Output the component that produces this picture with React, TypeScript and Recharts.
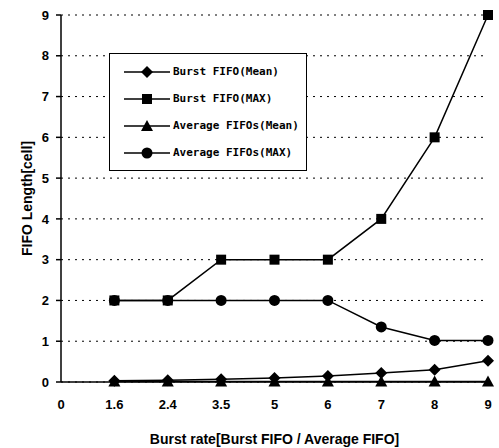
import React from 'react';
import {
  LineChart,
  Line,
  XAxis,
  YAxis,
  CartesianGrid,
  Legend,
} from 'recharts';

// burst rate categories (the "0" slot sits on the y axis and carries no data)
const categories = ['0', '1.6', '2.4', '3.5', '5', '6', '7', '8', '9'];
const burstMean = [null, 0.03, 0.04, 0.07, 0.1, 0.15, 0.22, 0.3, 0.52];
const burstMax = [null, 2, 2, 3, 3, 3, 4, 6, 9];
const avgMean = [null, 0.01, 0.01, 0.01, 0.01, 0.01, 0.01, 0.01, 0.01];
const avgMax = [null, 2, 2, 2, 2, 2, 1.35, 1.02, 1.02];
const yTicks = [0, 1, 2, 3, 4, 5, 6, 7, 8, 9];

type Shape = 'diamond' | 'square' | 'triangle' | 'circle';

const series: { key: string; name: string; shape: Shape; values: (number | null)[] }[] = [
  { key: 'burstMean', name: 'Burst FIFO(Mean)', shape: 'diamond', values: burstMean },
  { key: 'burstMax', name: 'Burst FIFO(MAX)', shape: 'square', values: burstMax },
  { key: 'avgMean', name: 'Average FIFOs(Mean)', shape: 'triangle', values: avgMean },
  { key: 'avgMax', name: 'Average FIFOs(MAX)', shape: 'circle', values: avgMax },
];

const data = categories.map((c, i) => {
  const row: Record<string, string | number | null> = { x: c };
  series.forEach((s) => {
    row[s.key] = s.values[i];
  });
  return row;
});

function marker(shape: Shape, cx: number, cy: number) {
  switch (shape) {
    case 'diamond':
      return <path d={`M${cx},${cy - 6}L${cx + 6},${cy}L${cx},${cy + 6}L${cx - 6},${cy}Z`} fill="#000" />;
    case 'square':
      return <rect x={cx - 5} y={cy - 5} width={10} height={10} fill="#000" />;
    case 'triangle':
      return <path d={`M${cx},${cy - 6}L${cx + 6},${cy + 5}L${cx - 6},${cy + 5}Z`} fill="#000" />;
    default:
      return <circle cx={cx} cy={cy} r={5.5} fill="#000" />;
  }
}

const dotFor = (shape: Shape) => (props: any) => {
  const { cx, cy, index, value } = props;
  if (value == null || cx == null || cy == null) return <g key={index} />;
  return <g key={index}>{marker(shape, cx, cy)}</g>;
};

function LegendBox() {
  return (
    <div
      style={{
        border: '1.5px solid #000',
        background: '#fff',
        padding: '4px 0 4px 14px',
        fontFamily: '"DejaVu Sans Mono", monospace',
        fontWeight: 'bold',
        fontSize: 11,
        width: 182,
      }}
    >
      {series.map((s) => (
        <div key={s.key} style={{ display: 'flex', alignItems: 'center', height: 27 }}>
          <svg width={46} height={14} style={{ marginRight: 3 }}>
            <line x1={0} y1={7} x2={46} y2={7} stroke="#000" strokeWidth={1.5} />
            {marker(s.shape, 23, 7)}
          </svg>
          <span>{s.name}</span>
        </div>
      ))}
    </div>
  );
}

export default function App() {
  const tickStyle = { fontFamily: '"Liberation Sans", Arial, sans-serif', fontWeight: 'bold', fontSize: 13, fill: '#000' };
  return (
    <div style={{ position: 'absolute', left: 0, top: 0, background: '#fff' }}>
      <LineChart width={499} height={448} data={data} margin={{ top: 15, right: 11, left: 0, bottom: 0 }}>
        <CartesianGrid vertical={false} stroke="#000" strokeDasharray="2 5" />
        <XAxis
          dataKey="x"
          height={66}
          stroke="#000"
          strokeWidth={1.5}
          tickLine={false}
          tickSize={0}
          tickMargin={18}
          tick={tickStyle}
          interval={0}
          label={{
            value: 'Burst rate[Burst FIFO / Average FIFO]',
            position: 'insideBottom',
            offset: 4,
            style: { ...tickStyle, fontSize: 14 },
          }}
        />
        <YAxis
          width={61}
          domain={[0, 9]}
          ticks={yTicks}
          stroke="#000"
          strokeWidth={1.5}
          tickSize={5}
          tickMargin={7}
          tick={tickStyle}
          interval={0}
          label={{
            value: 'FIFO Length[cell]',
            angle: -90,
            position: 'center',
            dx: -3,
            style: { ...tickStyle, fontSize: 14, textAnchor: 'middle' },
          }}
        />
        <Legend
          layout="vertical"
          align="center"
          verticalAlign="middle"
          content={() => <LegendBox />}
          wrapperStyle={{ position: 'absolute', left: 109, top: 53, width: 'auto' }}
        />
        {series.map((s) => (
          <Line
            key={s.key}
            type="linear"
            dataKey={s.key}
            name={s.name}
            stroke="#000"
            strokeWidth={1.5}
            dot={dotFor(s.shape)}
            activeDot={false}
            isAnimationActive={false}
          />
        ))}
      </LineChart>
    </div>
  );
}
